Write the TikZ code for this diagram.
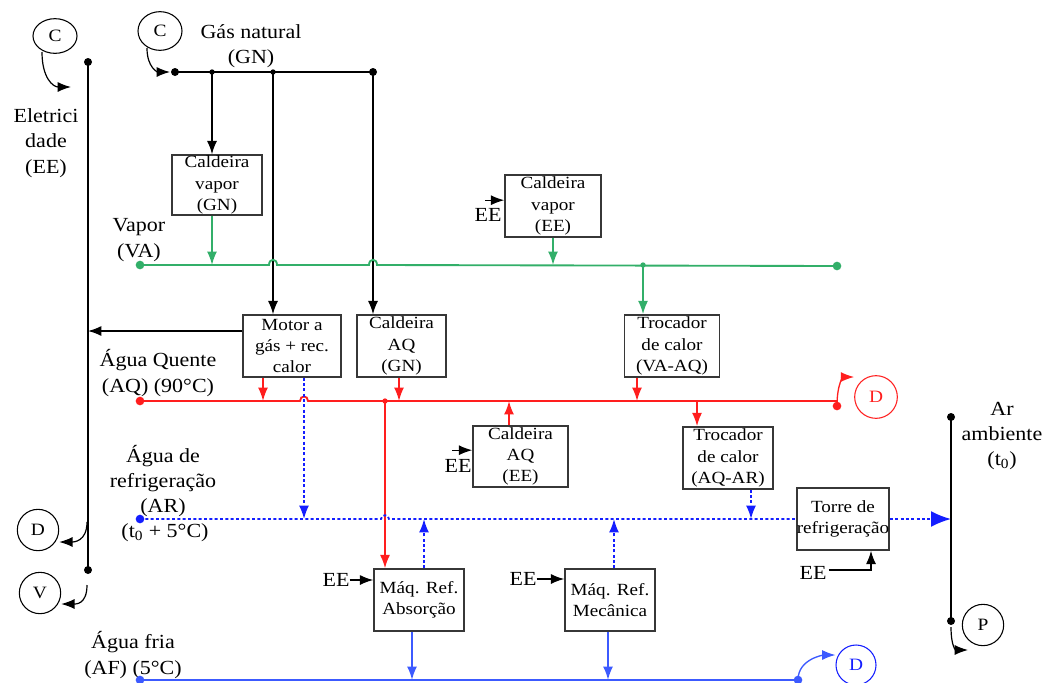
\documentclass[tikz,border=0pt]{standalone}
\usepackage{fontspec}
\setmainfont[FakeStretch=1.1]{Liberation Serif}
\newfontfamily\boxfontfam[FakeStretch=1.12]{Liberation Serif}
\usetikzlibrary{arrows.meta,calc,shapes.geometric}
\definecolor{vagreen}{RGB}{50,175,105}
\definecolor{aqred}{RGB}{255,30,30}
\definecolor{arblue}{RGB}{20,30,255}
\definecolor{afblue}{RGB}{60,90,255}
\definecolor{boxgray}{RGB}{55,55,55}
\tikzset{
  lbl/.style={font=\fontsize{15}{19}\selectfont, align=center, inner sep=0pt},
  unit/.style={draw=boxgray, line width=1.1pt, align=center, inner sep=0pt,
    font=\boxfontfam\fontsize{12.8}{16}\selectfont},
  arrowed/.style={-{Latex[length=10pt,width=7.5pt]}},
  bigarrowed/.style={-{Latex[length=15pt,width=12pt]}},
  wire/.style={line width=1pt, black},
  vaw/.style={line width=1.4pt, vagreen},
  aqw/.style={line width=1.4pt, aqred},
  arw/.style={line width=1.4pt, arblue, dash pattern=on 2.2pt off 1.8pt},
  afw/.style={line width=1.5pt, afblue},
  pdot/.style={circle, fill, inner sep=0pt, minimum size=6pt},
  sdot/.style={circle, fill, inner sep=0pt, minimum size=4pt},
  ring/.style={circle, draw, line width=0.8pt, inner sep=0pt, minimum size=31pt,
    font=\boxfontfam\fontsize{13}{15}\selectfont},
  oring/.style={ellipse, draw, line width=0.8pt, inner sep=0pt, minimum width=33pt,
    minimum height=26pt, font=\boxfontfam\fontsize{13}{15}\selectfont},
}
\begin{document}
\begin{tikzpicture}[x=0.75pt,y=-0.75pt]
\useasboundingbox (0,0) rectangle (1045,682);

% ---------- boxes ----------
\node[unit, minimum width=67.5pt, minimum height=45pt] (cvgn) at (217,185) {Caldeira\\vapor\\(GN)};
\node[unit, minimum width=72pt, minimum height=46.5pt] (cvee) at (553,206) {Caldeira\\vapor\\(EE)};
\node[unit, minimum width=73.5pt, minimum height=46.5pt] (motor) at (292,346) {Motor a\\gás + rec.\\calor};
\node[unit, minimum width=66.75pt, minimum height=46.5pt] (caqgn) at (401.5,346) {Caldeira\\AQ\\(GN)};
\node[unit, minimum width=71.25pt, minimum height=46.5pt] (tvaaq) at (672,346) {Trocador\\de calor\\(VA-AQ)};
\node[unit, minimum width=71.25pt, minimum height=45.75pt] (caqee) at (520.5,456.5) {Caldeira\\AQ\\(EE)};
\node[unit, minimum width=67.5pt, minimum height=46.5pt] (taqar) at (728,458) {Trocador\\de calor\\(AQ-AR)};
\node[unit, minimum width=67.5pt, minimum height=46.5pt] (torre) at (843,519) {Torre de\\refrigeração};
\node[unit, minimum width=67.5pt, minimum height=46.5pt] (mabs) at (419,600) {Máq. Ref.\\Absorção};
\node[unit, minimum width=67.5pt, minimum height=46.5pt] (mmec) at (610,600) {Máq. Ref.\\Mecânica};

% ---------- labels ----------
\node[lbl] (lEE) at (46,143) {Eletrici\\dade\\(EE)};
\node[lbl] (lGN) at (251,46) {Gás natural\\(GN)};
\node[lbl] (lVA) at (139,240) {Vapor\\(VA)};
\node[lbl] (lAQ) at (158,373) {Água Quente\\(AQ) (90°C)};
\node[lbl] (lAR) at (163,481) {Água de\\refrigeração\\(AR)};
\node[lbl] (lt) at (165,533) {(t\textsubscript{0} + 5°C)};
\node[lbl] (lAF) at (133,655) {Água fria\\(AF) (5°C)};
\node[lbl] (lamb) at (1002,436) {Ar\\ambiente\\(t\textsubscript{0})};
\node[lbl] (eeV) at (488,215) {EE};
\node[lbl] (eeC) at (458,466) {EE};
\node[lbl] (eeA) at (336,580) {EE};
\node[lbl] (eeM) at (523,579) {EE};
\node[lbl] (eeT) at (813,573) {EE};

% ---------- circles ----------
\node[oring] (cL) at (55,36) {C};
\node[oring, minimum height=29pt] (cT) at (160,31) {C};
\node[ring] (dL) at (38,530) {D};
\node[ring] (vL) at (40,593) {V};
\node[ring, draw=aqred, text=aqred, minimum size=32pt] (dR) at (876,397) {D};
\node[ring, draw=arblue, text=arblue, minimum size=30pt] (dB) at (856,665) {D};
\node[ring] (pR) at (983,625) {P};

% ---------- dots ----------
\node[pdot] (ee0) at (88,62) {};
\node[pdot] (ee1) at (88,570) {};
\node[pdot] (gn0) at (175,72) {};
\node[sdot] (gn1) at (212,72) {};
\node[sdot] (gn2) at (273,72) {};
\node[pdot] (gn3) at (373,72) {};
\node[pdot, vagreen, minimum size=6.5pt] (va0) at (140,265) {};
\node[pdot, vagreen, minimum size=6.5pt] (va1) at (837,266) {};
\node[sdot, vagreen] (vab) at (643,265) {};
\node[pdot, aqred, minimum size=6.5pt] (aq0) at (140,401) {};
\node[pdot, aqred, minimum size=6.5pt] (aq1) at (837,406) {};
\node[sdot, aqred] (aqb) at (385,401) {};
\node[pdot, arblue, minimum size=6.5pt] (ar0) at (140,519) {};
\node[pdot, afblue, minimum size=6.5pt] (af0) at (140,680) {};
\node[pdot, afblue, minimum size=6.5pt] (af1) at (798,680) {};
\node[pdot] (amb0) at (951,417) {};
\node[pdot] (amb1) at (951,621) {};

% ---------- black network ----------
\draw[wire] (ee0.center) -- (ee1.center);
\draw[wire] (gn0.center) -- (gn3.center);
\draw[wire] (amb0.center) -- (amb1.center);
\draw[wire,arrowed] (gn1.center) -- (gn1 |- cvgn.north);
\draw[wire,arrowed] (gn2.center) -- (gn2 |- motor.north);
\draw[wire,arrowed] (gn3.center) -- (gn3 |- caqgn.north);
\draw[wire,arrowed] ($(motor.west)+(0,-15)$) coordinate (mw) -- (mw -| ee0);

% curved arrows from circles
\coordinate (cLe) at (71,87);
\draw[line width=0.9pt,arrowed] ($(cL.center)+(-13,16)$) .. controls +(0,26) and +(-18,0) .. (cLe);
\coordinate (cTe) at (170,72);
\draw[line width=0.9pt,arrowed] ($(cT.center)+(-13,17)$) .. controls +(0,20) and +(-12,0) .. (cTe);
\coordinate (eD) at (87,522);
\draw[line width=0.9pt,arrowed] (eD) .. controls +(0,20) and +(14,0) .. ($(dL.east)+(0,12)$);
\coordinate (eV) at (87,585);
\draw[line width=0.9pt,arrowed] (eV) .. controls +(0,20) and +(14,0) .. ($(vL.east)+(0,11)$);
\draw[line width=1pt,aqred,arrowed] (aq1.center) .. controls +(0,-24) and +(-10,0) .. ($(dR.west)+(0,-20)$);
\draw[line width=1pt,afblue,arrowed] (af1.center) .. controls +(0,-22) and +(-10,0) .. ($(dB.west)+(0,-10)$);
\draw[line width=0.9pt,arrowed] ($(amb1.center)+(0,6)$) .. controls +(0,20) and +(-12,0) .. ($(pR.south west)+(0,10)$);

% EE inputs
\draw[wire,arrowed] ($(eeV.north)+(-3,-8)$) coordinate (eva) -- (eva -| cvee.west);
\draw[wire,arrowed] ($(eeC.north)+(-6,-9)$) coordinate (eca) -- (eca -| caqee.west);
\draw[wire,arrowed] (eeA.east) -- (eeA.east -| mabs.west);
\draw[wire,arrowed] (eeM.east) -- (eeM.east -| mmec.west);
\draw[wire,arrowed] ($(eeT.east)+(2,-3)$) -| ($(torre.south)+(28,0)$);

% ---------- steam (VA) ----------
\draw[vaw] (va0.center) -- (269,265) .. controls (269,258) and (277,258) .. (277,265)
  -- (369,265) .. controls (369,258) and (377,258) .. (377,265) -- (va1.center);
\draw[vaw,arrowed] (gn1 |- cvgn.south) -- (gn1 |- va0);
\draw[vaw,arrowed] (cvee.south) -- (cvee.south |- va0);
\draw[vaw,arrowed] (vab.center) -- (vab |- tvaaq.north);

% ---------- hot water (AQ) ----------
\draw[aqw] (aq0.center) -- (300,401) .. controls (300,395) and (308,395) .. (308,401)
  -- (837,401) -- (aq1.center);
\draw[aqw,arrowed] ($(motor.south)+(-29,0)$) coordinate (m1) -- (m1 |- aq0);
\draw[aqw,arrowed] ($(caqgn.south)+(-2.5,0)$) coordinate (c1) -- (c1 |- aq0);
\draw[aqw,arrowed] ($(tvaaq.south)+(-35,0)$) coordinate (t1) -- (t1 |- aq0);
\draw[aqw,arrowed] ($(caqee.north)+(-11.5,0)$) coordinate (ce1) -- (ce1 |- aq0);
\coordinate (t2) at (697,401);
\draw[aqw,arrowed] (t2) -- (t2 |- taqar.north);
\draw[line width=1.2pt,aqred,arrowed] (aqb.center) -- (aqb |- mabs.north);

% ---------- cooling water (AR) ----------
\draw[arw] (ar0.center) -- (381,519) .. controls (381,514) and (389,514) .. (389,519) -- (torre.west);
\draw[arw,bigarrowed] (torre.east) -- (torre.east -| amb0);
\draw[arw,arrowed] ($(motor.south)+(12,0)$) coordinate (m2) -- (m2 |- ar0);
\draw[arw,arrowed] ($(taqar.south)+(23,0)$) coordinate (t3) -- (t3 |- ar0);
\draw[arw,arrowed] ($(mabs.north)+(5,0)$) coordinate (a1) -- (a1 |- ar0);
\draw[arw,arrowed] ($(mmec.north)+(4,0)$) coordinate (a2) -- (a2 |- ar0);

% ---------- chilled water (AF) ----------
\draw[afw] (af0.center) -- (af1.center);
\draw[afw,arrowed] ($(mabs.south)+(-7,0)$) coordinate (b1) -- (b1 |- af0);
\draw[afw,arrowed] ($(mmec.south)+(-2,0)$) coordinate (b2) -- (b2 |- af0);
\end{tikzpicture}
\end{document}
